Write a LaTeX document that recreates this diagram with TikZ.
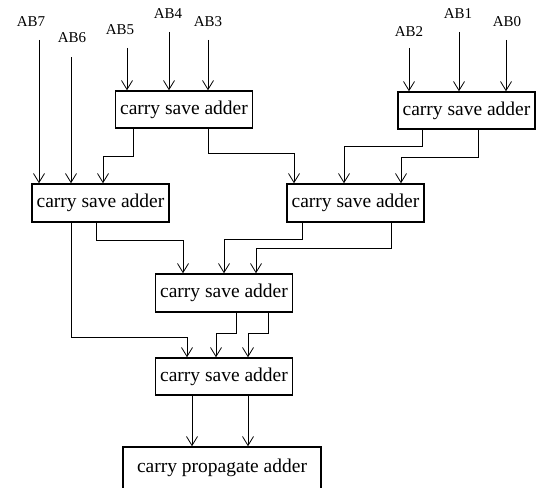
\documentclass[tikz,border=0pt]{standalone}
\usepackage{fontspec}
\setmainfont{Liberation Serif}
\usepackage{tikz}
\usetikzlibrary{arrows.meta}

\tikzset{
  csabox/.style={draw, line width=1.5pt, minimum width=137pt, minimum height=37pt,
    inner sep=0pt, font=\fontsize{19.5}{21}\selectfont},
  inlabel/.style={inner sep=0pt, font=\fontsize{15}{16}\selectfont},
  arr/.style={line width=0.8pt, -{Straight Barb[length=9pt,width=11pt]}}
}

\begin{document}
\begin{tikzpicture}[x=1pt, y=-1pt]
  \useasboundingbox (0,0) rectangle (537,487);
  \clip (0,0) rectangle (537,487);

  % Input labels
  \node[inlabel] (ab7) at (31,22) {AB7};
  \node[inlabel] (ab6) at (72,38) {AB6};
  \node[inlabel] (ab5) at (120,30) {AB5};
  \node[inlabel] (ab4) at (168,14) {AB4};
  \node[inlabel] (ab3) at (208,22) {AB3};
  \node[inlabel] (ab2) at (409,32) {AB2};
  \node[inlabel] (ab1) at (458,14) {AB1};
  \node[inlabel] (ab0) at (507,22) {AB0};

  % Adders
  \node[csabox] (csaA) at (184,109.5) {carry save adder};
  \node[csabox] (csaB) at (466.5,110.5) {carry save adder};
  \node[csabox, minimum height=38pt] (csaC) at (100.5,203) {carry save adder};
  \node[csabox, minimum height=38pt] (csaD) at (355.5,203) {carry save adder};
  \node[csabox, minimum height=38pt] (csaE) at (224,293) {carry save adder};
  \node[csabox] (csaF) at (224,376.5) {carry save adder};
  \node[csabox, minimum width=198pt, minimum height=42pt] (cpa) at (222,468) {carry propagate adder};

  % Inputs into the first row
  \coordinate (in7) at (39,40);
  \coordinate (in6) at (71,57);
  \coordinate (in5) at (127,48);
  \coordinate (in4) at (169,32);
  \coordinate (in3) at (208,40);
  \coordinate (in2) at (409,48);
  \coordinate (in1) at (459,32);
  \coordinate (in0) at (506,40);
  \draw[arr] (in7) -- (in7 |- csaC.north);
  \draw[arr] (in6) -- (in6 |- csaC.north);
  \draw[arr] (in5) -- (in5 |- csaA.north);
  \draw[arr] (in4) -- (in4 |- csaA.north);
  \draw[arr] (in3) -- (in3 |- csaA.north);
  \draw[arr] (in2) -- (in2 |- csaB.north);
  \draw[arr] (in1) -- (in1 |- csaB.north);
  \draw[arr] (in0) -- (in0 |- csaB.north);

  % First row to second row
  \draw[arr] ([xshift=-51pt]csaA.south) -- ++(0,28) -| ([xshift=2.5pt]csaC.north);
  \draw[arr] ([xshift=24pt]csaA.south) -- ++(0,25) -| ([xshift=-61.5pt]csaD.north);
  \draw[arr] ([xshift=-44.5pt]csaB.south) -- ++(0,17) -| ([xshift=-11.5pt]csaD.north);
  \draw[arr] ([xshift=11.5pt]csaB.south) -- ++(0,28) -| ([xshift=45.5pt]csaD.north);

  % Second row to third and fourth adders
  \draw[arr] ([xshift=-29.5pt]csaC.south) -- ++(0,115) -| ([xshift=-37pt]csaF.north);
  \draw[arr] ([xshift=-4.5pt]csaC.south) -- ++(0,18) -| ([xshift=-41pt]csaE.north);
  \draw[arr] ([xshift=-53.5pt]csaD.south) -- ++(0,17) -| (csaE.north);
  \draw[arr] ([xshift=35.5pt]csaD.south) -- ++(0,26) -| ([xshift=32pt]csaE.north);

  % Third to fourth
  \draw[arr] ([xshift=12pt]csaE.south) -- ++(0,21) -| ([xshift=-8pt]csaF.north);
  \draw[arr] ([xshift=44pt]csaE.south) -- ++(0,21) -| ([xshift=24pt]csaF.north);

  % Into the carry propagate adder
  \draw[arr] ([xshift=-32pt]csaF.south) -- ([xshift=-32pt]csaF.south |- cpa.north);
  \draw[arr] ([xshift=24pt]csaF.south) -- ([xshift=24pt]csaF.south |- cpa.north);
\end{tikzpicture}
\end{document}
